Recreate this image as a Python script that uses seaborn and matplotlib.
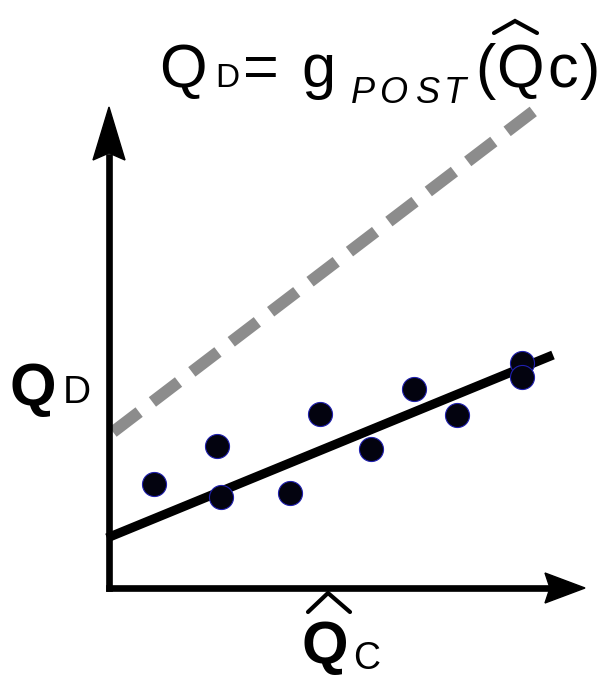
import numpy as np
import pandas as pd
import matplotlib
matplotlib.use("Agg")
import matplotlib.pyplot as plt
from matplotlib.patches import Polygon
import seaborn as sns

# Daten (Einheiten: relativ zum Achsenursprung)
qc_hat = [45, 108, 112, 181, 211, 262, 305, 348, 413, 413]
qd = [104, 142, 91, 95, 174, 139, 199, 173, 225, 211]

fit_x = [-2, 444]
fit_y = [50, 233]

post_x = [4, 434]
post_y = [156, 484]

x_axis_end = 476
y_axis_end = 481

df_pts = pd.DataFrame({"Qc_hat": qc_hat, "QD": qd})
df_fit = pd.DataFrame({"x": fit_x, "y": fit_y})
df_post = pd.DataFrame({"x": post_x, "y": post_y})

sns.set_style("white")
plt.rcParams["font.family"] = ["Liberation Sans", "DejaVu Sans"]

fig = plt.figure(figsize=(6.08, 6.76), dpi=100)
ax = fig.add_axes([0, 0, 1, 1])
ax.set_xlim(-109, 499)
ax.set_ylim(-88, 588)
ax.axis("off")


def P(px, py):
    # Pixelposition (oben links) -> Datenkoordinaten
    return px - 109, 588 - py


# g_POST Linie (gestrichelt)
sns.lineplot(data=df_post, x="x", y="y", color="#8c8c8c", linewidth=8.6,
             linestyle=(0, (2.75, 1.4)), ax=ax, zorder=2)
ax.lines[-1].set_dash_capstyle("butt")

# Regressionslinie
sns.lineplot(data=df_fit, x="x", y="y", color="black", linewidth=6.6, ax=ax, zorder=3)
ax.lines[-1].set_solid_capstyle("butt")

# Punkte
sns.scatterplot(data=df_pts, x="Qc_hat", y="QD", s=300, color="#03030f",
                edgecolor="#2020b0", linewidth=0.8, ax=ax, zorder=4)

# Achsen mit Pfeilen
ax.plot([0, 0], [0, y_axis_end - 50], color="black", lw=4.8,
        solid_capstyle="projecting", zorder=5)
ax.plot([0, x_axis_end - 38], [0, 0], color="black", lw=4.8,
        solid_capstyle="projecting", zorder=5)
ax.add_patch(Polygon([(0, y_axis_end), (-16, y_axis_end - 53), (0, y_axis_end - 46),
                      (16, y_axis_end - 53)], closed=True, color="black", zorder=6))
ax.add_patch(Polygon([(x_axis_end, 0), (x_axis_end - 40, 15), (x_axis_end - 35, 0),
                      (x_axis_end - 40, -15)], closed=True, color="black", zorder=6))
ax.set_xlabel("")
ax.set_ylabel("")

# Titel: QD= g POST(Q^c)
kw = dict(va="baseline", ha="left", color="black")
ax.text(*P(159, 87), "Q", fontsize=44, **kw)
ax.text(*P(215, 87), "D", fontsize=24, **kw)
ax.text(*P(243, 87), "=", fontsize=44, **kw)
ax.text(*P(301, 87), "g", fontsize=44, **kw)
for ch, px in zip("POST", [351, 379, 416, 444]):
    ax.text(*P(px, 103), ch, fontsize=26, style="italic", **kw)
ax.text(*P(475, 87), "(", fontsize=44, **kw)
ax.text(*P(496, 87), "Q", fontsize=44, **kw)
ax.text(*P(547, 87), "c", fontsize=44, **kw)
ax.text(*P(580, 87), ")", fontsize=44, **kw)
hx, hy = zip(P(494, 33), P(515, 21), P(537, 33))
ax.plot(hx, hy, color="black", lw=3, solid_joinstyle="miter", zorder=6)

# Y-Label
ax.text(*P(10, 405), "Q", fontsize=43, fontweight="bold", **kw)
ax.text(*P(63, 403), "D", fontsize=28, **kw)

# X-Label
ax.text(*P(302, 663), "Q", fontsize=43, fontweight="bold", **kw)
ax.text(*P(353, 669), "C", fontsize=27, **kw)
hx, hy = zip(P(308, 612), P(328, 593), P(350, 612))
ax.plot(hx, hy, color="black", lw=3, solid_joinstyle="miter", zorder=6)

fig.savefig("out.png", dpi=100)
